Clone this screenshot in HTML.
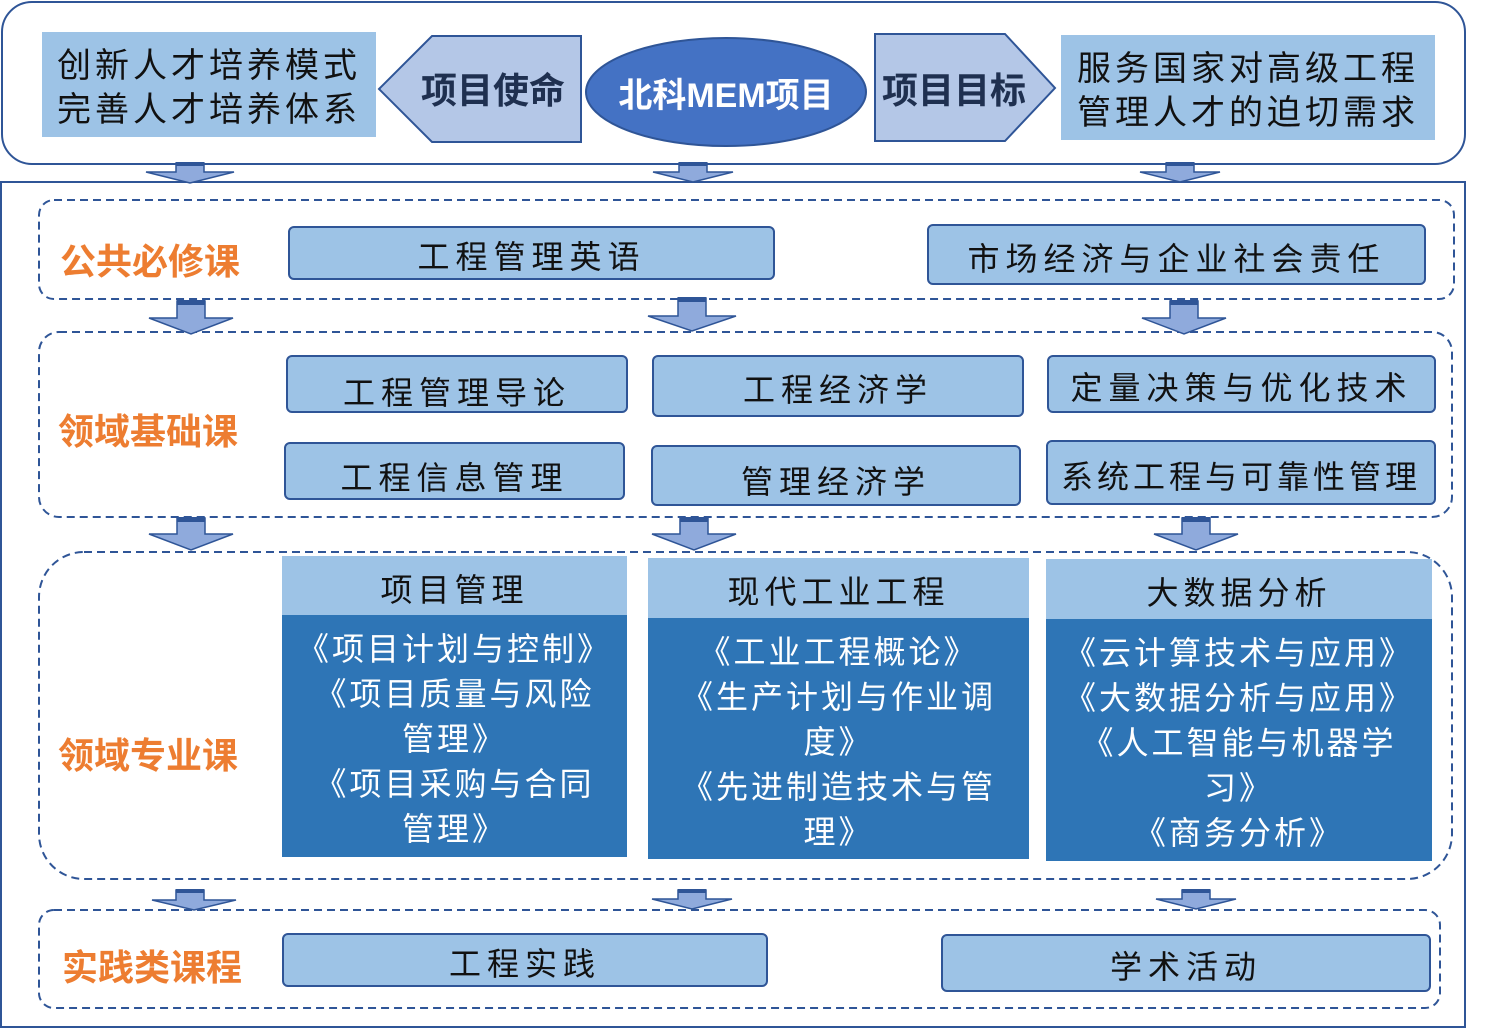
<!DOCTYPE html>
<html><head><meta charset="utf-8"><style>
body{margin:0;width:1498px;height:1029px;background:#fff;position:relative;overflow:hidden;font-family:"Liberation Sans","Noto Sans CJK SC",sans-serif}
.a{position:absolute;box-sizing:border-box;display:flex;align-items:center;justify-content:center;text-align:center;color:#111;white-space:nowrap}
.lb{background:#9dc3e6}
.bx{background:#9dc3e6;border:2px solid #2f5597;border-radius:6px;font-size:32px;letter-spacing:6px;padding-top:4px}
.or{color:#ed7d31;font-weight:bold;font-size:36px;justify-content:flex-start}
.hd{background:#9dc3e6;font-size:32px;letter-spacing:5px;padding-top:4px}
.bd{background:#2e75b6;color:#fff;font-size:32px;line-height:45px;letter-spacing:3px;align-items:flex-start;padding-top:12px}
</style></head><body>
<svg width="1498" height="1029" style="position:absolute;left:0;top:0">
<rect x="2" y="2" width="1463" height="162" rx="30" fill="none" stroke="#2f5597" stroke-width="2"/>
<rect x="1" y="182" width="1464" height="845" fill="none" stroke="#2f5597" stroke-width="2"/>
<g fill="none" stroke="#2f5597" stroke-width="2" stroke-dasharray="8,5">
<rect x="39" y="200" width="1415" height="99" rx="15"/>
<rect x="39" y="332" width="1413" height="185" rx="20"/>
<rect x="39" y="552" width="1413" height="327" rx="45"/>
<rect x="39" y="910" width="1401" height="98" rx="15"/>
</g>
<polygon points="379,89 432,36 581,36 581,142 432,142" fill="#b4c7e7" stroke="#2f5597" stroke-width="2"/>
<polygon points="875,34 1005,34 1055,88 1005,141 875,141" fill="#b4c7e7" stroke="#2f5597" stroke-width="2"/>
<ellipse cx="726" cy="92" rx="140" ry="54" fill="#4472c4" stroke="#2f5597" stroke-width="2"/>
<g fill="#8faadc" stroke="#2f5597" stroke-width="1.5">
<path d="M176,163h28v9h30l-44,11l-44,-11h30z"/>
<path d="M679,163h28v9h26l-40,10l-40,-10h26z"/>
<path d="M1166,163h28v9h26l-40,10l-40,-10h26z"/>
<path d="M177,301h28v17h28l-42,16l-42,-16h28z"/>
<path d="M678,298h28v18h30l-44,15l-44,-15h30z"/>
<path d="M1170,301h28v17h28l-42,16l-42,-16h28z"/>
<path d="M177,518h28v16h28l-42,16l-42,-16h28z"/>
<path d="M680,518h28v16h28l-42,16l-42,-16h28z"/>
<path d="M1182,518h28v16h28l-42,16l-42,-16h28z"/>
<path d="M176,890h28v10h32l-42,10l-42,-10h24z"/>
<path d="M678,890h28v9h26l-40,10l-40,-10h26z"/>
<path d="M1182,890h28v9h26l-40,10l-40,-10h26z"/>
</g>
<g fill="#2f5597">
<rect x="176" y="162" width="28" height="4"/><rect x="679" y="162" width="28" height="4"/><rect x="1166" y="162" width="28" height="4"/>
<rect x="177" y="300" width="28" height="5"/><rect x="678" y="297" width="28" height="5"/><rect x="1170" y="300" width="28" height="5"/>
<rect x="177" y="517" width="28" height="5"/><rect x="680" y="517" width="28" height="5"/><rect x="1182" y="517" width="28" height="5"/>
<rect x="176" y="889" width="28" height="4"/><rect x="678" y="889" width="28" height="4"/><rect x="1182" y="889" width="28" height="4"/>
</g>
</svg>
<div class="a lb" style="left:42px;top:32px;width:334px;height:105px;font-size:34px;line-height:44px;letter-spacing:4px;padding-top:6px">创新人才培养模式<br>完善人才培养体系</div>
<div class="a" style="left:410px;top:62px;width:166px;height:52px;font-size:36px;font-weight:bold;color:#1f3050">项目使命</div>
<div class="a" style="left:600px;top:66px;width:252px;height:52px;font-size:34px;font-weight:bold;color:#fff">北科MEM项目</div>
<div class="a" style="left:876px;top:62px;width:156px;height:52px;font-size:36px;font-weight:bold;color:#1f3050">项目目标</div>
<div class="a lb" style="left:1061px;top:35px;width:374px;height:105px;font-size:34px;line-height:44px;letter-spacing:4px;padding-top:6px">服务国家对高级工程<br>管理人才的迫切需求</div>

<div class="a or" style="left:60px;top:234px;width:200px;height:50px">公共必修课</div>
<div class="a or" style="left:58px;top:404px;width:200px;height:50px">领域基础课</div>
<div class="a or" style="left:58px;top:728px;width:200px;height:50px">领域专业课</div>
<div class="a or" style="left:62px;top:940px;width:200px;height:50px">实践类课程</div>

<div class="a bx" style="left:288px;top:226px;width:487px;height:54px">工程管理英语</div>
<div class="a bx" style="left:927px;top:224px;width:499px;height:61px">市场经济与企业社会责任</div>
<div class="a bx" style="left:286px;top:355px;width:342px;height:58px;padding-top:14px">工程管理导论</div>
<div class="a bx" style="left:652px;top:355px;width:372px;height:62px">工程经济学</div>
<div class="a bx" style="left:1047px;top:355px;width:389px;height:58px">定量决策与优化技术</div>
<div class="a bx" style="left:284px;top:442px;width:341px;height:58px;padding-top:10px">工程信息管理</div>
<div class="a bx" style="left:651px;top:445px;width:370px;height:61px;padding-top:8px">管理经济学</div>
<div class="a bx" style="left:1046px;top:440px;width:390px;height:65px;letter-spacing:4px">系统工程与可靠性管理</div>

<div class="a hd" style="left:282px;top:556px;width:345px;height:59px">项目管理</div>
<div class="a bd" style="left:282px;top:615px;width:345px;height:242px">《项目计划与控制》<br>《项目质量与风险<br>管理》<br>《项目采购与合同<br>管理》</div>
<div class="a hd" style="left:648px;top:558px;width:381px;height:60px">现代工业工程</div>
<div class="a bd" style="left:648px;top:618px;width:381px;height:241px">《工业工程概论》<br>《生产计划与作业调<br>度》<br>《先进制造技术与管<br>理》</div>
<div class="a hd" style="left:1046px;top:559px;width:386px;height:60px">大数据分析</div>
<div class="a bd" style="left:1046px;top:619px;width:386px;height:242px">《云计算技术与应用》<br>《大数据分析与应用》<br>《人工智能与机器学<br>习》<br>《商务分析》</div>

<div class="a bx" style="left:282px;top:933px;width:486px;height:54px">工程实践</div>
<div class="a bx" style="left:941px;top:934px;width:490px;height:58px">学术活动</div>
</body></html>
